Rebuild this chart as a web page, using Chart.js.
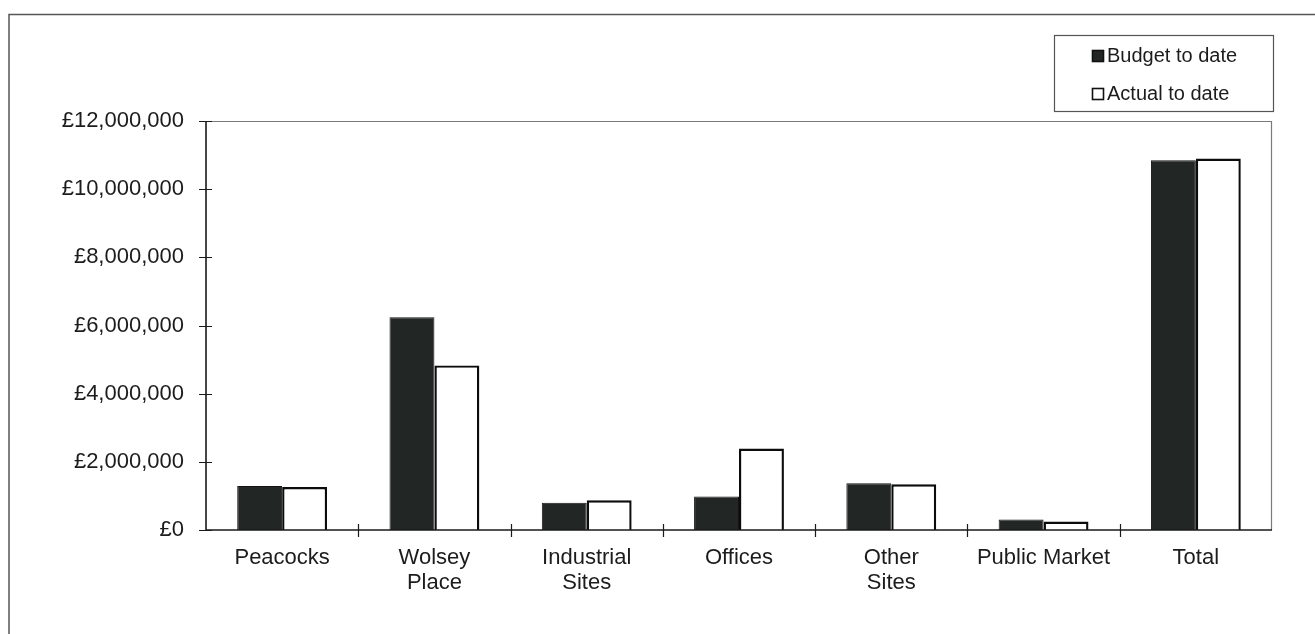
<!DOCTYPE html>
<html>
<head>
<meta charset="utf-8">
<script src="https://cdn.jsdelivr.net/npm/chart.js@4.4.1/dist/chart.umd.min.js"></script>
<style>
  html, body { margin: 0; padding: 0; background: #ffffff; }
  #wrap { width: 1315px; height: 634px; position: relative; }
</style>
</head>
<body>
<div id="wrap"><canvas id="c" width="1315" height="634"></canvas></div>
<script>
// Schemes and their spend to date
const categories = ['Peacocks', ['Wolsey', 'Place'], ['Industrial', 'Sites'], 'Offices', ['Other', 'Sites'], 'Public Market', 'Total'];
const budgetToDate = [1290000, 6240000, 800000, 980000, 1370000, 310000, 10850000];
const actualToDate = [1260000, 4830000, 870000, 2390000, 1340000, 250000, 10900000];
const seriesNames = ['Budget to date', 'Actual to date'];
const yTicks = [0, 2000000, 4000000, 6000000, 8000000, 10000000, 12000000];

const FONT = '"Liberation Sans", Arial, sans-serif';
const INK = '#1c1c1c';

// Outer frame, plot-area border, crossing tick marks and the boxed legend
const decor = {
  id: 'decor',
  beforeDraw(chart) {
    const ctx = chart.ctx;
    ctx.save();
    ctx.fillStyle = '#ffffff';
    ctx.fillRect(0, 0, chart.width, chart.height);
    ctx.strokeStyle = '#555555';
    ctx.lineWidth = 1.5;
    ctx.beginPath();
    ctx.moveTo(9, chart.height + 5);
    ctx.lineTo(9, 14.5);
    ctx.lineTo(chart.width + 5, 14.5);
    ctx.stroke();
    ctx.restore();
  },
  afterDatasetsDraw(chart) {
    const ctx = chart.ctx;
    const a = chart.chartArea;
    const xs = chart.scales.x, ys = chart.scales.y;
    ctx.save();
    // plot area border (top / right)
    ctx.strokeStyle = '#7a7a7a';
    ctx.lineWidth = 1.2;
    ctx.beginPath();
    ctx.moveTo(a.left, a.top + 0.5);
    ctx.lineTo(a.right - 0.5, a.top + 0.5);
    ctx.lineTo(a.right - 0.5, a.bottom);
    ctx.stroke();
    // axis lines
    ctx.strokeStyle = '#1a1a1a';
    ctx.lineWidth = 1.6;
    ctx.beginPath();
    ctx.moveTo(a.left, a.top);
    ctx.lineTo(a.left, a.bottom);
    ctx.lineTo(a.right, a.bottom);
    ctx.stroke();
    // y ticks crossing the axis
    ctx.lineWidth = 1.2;
    ctx.beginPath();
    ys.ticks.forEach(t => {
      const y = Math.round(ys.getPixelForValue(t.value)) + 0.5;
      ctx.moveTo(a.left - 7, y);
      ctx.lineTo(a.left + 6, y);
    });
    // x ticks between categories
    const n = categories.length;
    for (let i = 1; i < n; i++) {
      const x = Math.round((xs.getPixelForValue(i - 1) + xs.getPixelForValue(i)) / 2) + 0.5;
      ctx.moveTo(x, a.bottom - 6);
      ctx.lineTo(x, a.bottom + 7);
    }
    ctx.stroke();
    ctx.restore();
  },
  afterDraw(chart) {
    const ctx = chart.ctx;
    ctx.save();
    const bx = 1054, by = 35, bw = 219, bh = 76;
    ctx.fillStyle = '#ffffff';
    ctx.fillRect(bx, by, bw, bh);
    ctx.strokeStyle = '#555555';
    ctx.lineWidth = 1.2;
    ctx.strokeRect(bx + 0.5, by + 0.5, bw, bh);
    ctx.font = '20px ' + FONT;
    ctx.textBaseline = 'middle';
    chart.data.datasets.forEach((ds, i) => {
      const cy = by + 21 + i * 38;
      const sx = 1092;
      ctx.fillStyle = ds.backgroundColor;
      ctx.fillRect(sx, cy - 6, 12, 12);
      ctx.strokeStyle = '#111111';
      ctx.lineWidth = 1.6;
      ctx.strokeRect(sx + 0.5, cy - 5.5, 11, 11);
      ctx.fillStyle = INK;
      ctx.fillText(ds.label, sx + 15, cy);
    });
    ctx.restore();
  }
};

new Chart(document.getElementById('c'), {
  type: 'bar',
  data: {
    labels: categories,
    datasets: [
      {
        label: seriesNames[0],
        data: budgetToDate,
        backgroundColor: '#222624',
        borderColor: '#141414',
        borderWidth: 1,
        categoryPercentage: 0.59,
        barPercentage: 1.0
      },
      {
        label: seriesNames[1],
        data: actualToDate,
        backgroundColor: '#ffffff',
        borderColor: '#0c0c0c',
        borderWidth: 2.4,
        categoryPercentage: 0.59,
        barPercentage: 1.0
      }
    ]
  },
  options: {
    responsive: false,
    animation: false,
    devicePixelRatio: 1,
    layout: { padding: { top: 121, right: 43, left: 0, bottom: 0 } },
    plugins: {
      legend: { display: false },
      tooltip: { enabled: false },
      title: { display: false }
    },
    scales: {
      x: {
        offset: true,
        grid: { display: false, drawTicks: false },
        border: { display: false },
        ticks: {
          color: INK,
          font: { family: FONT, size: 22, lineHeight: 1.15 },
          padding: 15,
          maxRotation: 0,
          autoSkip: false
        },
        afterFit(scale) { scale.height = 104; }
      },
      y: {
        min: 0,
        max: 12000000,
        grid: { display: false, drawTicks: false },
        border: { display: false },
        afterBuildTicks(scale) { scale.ticks = yTicks.map(v => ({ value: v })); },
        ticks: {
          color: INK,
          font: { family: FONT, size: 22 },
          padding: 22,
          callback: v => '£' + Number(v).toLocaleString('en-GB')
        },
        afterFit(scale) { scale.width = 206; }
      }
    }
  },
  plugins: [decor]
});
</script>
</body>
</html>
